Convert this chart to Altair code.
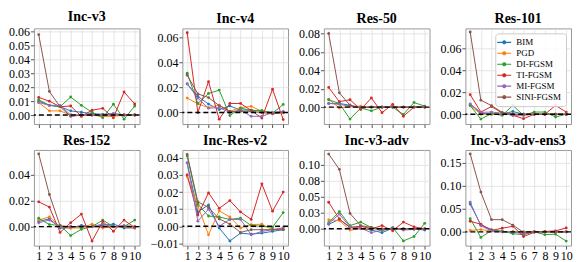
import altair as alt
import pandas as pd

METHODS = ["BIM", "PGD", "DI-FGSM", "TI-FGSM", "MI-FGSM", "SINI-FGSM"]
COLORS = ["#1f77b4", "#ff7f0e", "#2ca02c", "#d62728", "#9467bd", "#8c564b"]
STEPS = [1, 2, 3, 4, 5, 6, 7, 8, 9, 10]

INC_V3 = {
    "BIM": [0.010, 0.007, 0.006, 0.003, 0.002, 0.001, 0.0005, 0.001, 0.000, 0.000],
    "PGD": [0.009, 0.003, 0.003, 0.000, 0.000, 0.000, -0.001, -0.001, 0.000, 0.000],
    "DI-FGSM": [0.011, 0.007, 0.006, 0.013, 0.007, 0.002, -0.002, 0.0078, -0.003, 0.0065],
    "TI-FGSM": [0.0127, 0.010, 0.006, 0.0065, -0.001, 0.0035, 0.0048, -0.002, 0.0166, 0.008],
    "MI-FGSM": [0.009, 0.007, 0.007, 0.000, 0.000, 0.000, 0.000, 0.001, 0.000, 0.000],
    "SINI-FGSM": [0.058, 0.017, 0.006, -0.001, 0.000, 0.000, 0.000, 0.000, 0.000, 0.000],
}
INC_V4 = {
    "BIM": [0.023, 0.013, 0.0068, 0.0024, 0.0053, 0.002, 0.002, 0.001, 0.000, 0.000],
    "PGD": [0.0116, 0.007, 0.004, 0.006, 0.001, 0.004, 0.005, 0.001, -0.001, 0.000],
    "DI-FGSM": [0.0316, 0.0073, 0.0153, 0.018, -0.0024, 0.0036, 0.0017, 0.0017, -0.0005, 0.0065],
    "TI-FGSM": [0.064, 0.000, 0.0248, -0.0053, 0.0073, 0.0073, 0.0017, -0.0044, 0.0187, -0.0056],
    "MI-FGSM": [0.023, 0.0116, 0.0035, 0.004, 0.000, 0.002, -0.003, -0.003, 0.000, 0.001],
    "SINI-FGSM": [0.030, 0.015, 0.012, 0.0056, 0.001, 0.001, 0.001, 0.000, -0.001, 0.000],
}
RES_50 = {
    "BIM": [0.004, 0.004, 0.002, -0.001, 0.000, 0.000, 0.000, 0.000, 0.000, 0.000],
    "PGD": [0.0085, -0.001, 0.001, 0.001, 0.000, 0.000, 0.000, 0.000, 0.000, 0.000],
    "DI-FGSM": [0.008, 0.004, -0.013, -0.001, -0.004, 0.000, 0.000, -0.008, 0.005, 0.001],
    "TI-FGSM": [0.0214, 0.006, 0.008, -0.0026, 0.0099, -0.006, 0.003, -0.0099, 0.000, 0.000],
    "MI-FGSM": [0.004, 0.003, 0.001, 0.000, 0.000, 0.000, 0.000, 0.000, 0.000, 0.000],
    "SINI-FGSM": [0.080, 0.0155, 0.002, -0.001, 0.000, 0.000, 0.000, 0.000, 0.000, 0.000],
}
RES_101 = {
    "BIM": [0.009, 0.001, 0.000, 0.000, 0.0025, 0.000, 0.000, 0.000, 0.000, 0.000],
    "PGD": [0.008, 0.000, 0.000, 0.000, 0.000, 0.000, 0.000, 0.000, 0.000, 0.000],
    "DI-FGSM": [0.0078, -0.0044, 0.0006, -0.001, 0.008, -0.001, 0.002, 0.002, -0.0025, 0.000],
    "TI-FGSM": [0.0178, 0.002, 0.007, 0.001, -0.001, -0.004, 0.000, 0.000, 0.008, 0.002],
    "MI-FGSM": [0.0094, 0.0017, 0.002, 0.001, -0.001, -0.001, 0.000, 0.000, 0.000, 0.000],
    "SINI-FGSM": [0.0747, 0.0128, 0.0078, 0.0017, 0.000, 0.000, 0.000, 0.000, 0.000, 0.000],
}
RES_152 = {
    "BIM": [0.004, 0.006, -0.001, -0.001, 0.001, 0.000, 0.001, 0.002, -0.001, -0.001],
    "PGD": [0.005, 0.0075, 0.000, -0.001, -0.001, 0.002, -0.001, 0.000, 0.000, -0.001],
    "DI-FGSM": [0.0065, 0.0016, 0.001, -0.0068, -0.002, 0.000, 0.005, 0.000, 0.000, 0.005],
    "TI-FGSM": [0.019, 0.015, -0.0044, 0.003, 0.0096, -0.011, 0.004, -0.0035, 0.005, -0.0007],
    "MI-FGSM": [0.003, 0.005, 0.000, 0.000, 0.000, 0.000, 0.002, 0.000, 0.001, 0.000],
    "SINI-FGSM": [0.0557, 0.0246, 0.0007, 0.000, 0.000, 0.000, 0.000, 0.000, 0.000, 0.000],
}
INC_RES_V2 = {
    "BIM": [0.037, 0.0084, 0.0125, -0.001, -0.0086, -0.004, -0.0046, -0.004, -0.003, -0.002],
    "PGD": [0.029, 0.012, -0.005, 0.009, 0.0054, -0.001, 0.001, 0.0012, -0.002, -0.001],
    "DI-FGSM": [0.041, 0.0129, 0.006, 0.0054, 0.004, 0.0048, 0.0004, 0.000, -0.0005, 0.008],
    "TI-FGSM": [0.030, 0.0066, 0.0195, 0.0105, 0.015, 0.0084, 0.004, 0.0248, 0.0088, 0.020],
    "MI-FGSM": [0.037, 0.003, 0.010, 0.000, 0.004, 0.004, -0.005, -0.003, -0.002, -0.001],
    "SINI-FGSM": [0.042, 0.0143, 0.011, 0.0043, 0.0013, -0.0036, -0.002, -0.002, -0.002, -0.002],
}
INC_V3_ADV = {
    "BIM": [0.007, 0.015, 0.002, 0.001, -0.002, -0.006, 0.001, 0.000, 0.000, -0.002],
    "PGD": [0.014, 0.013, -0.002, 0.000, 0.000, 0.000, 0.000, 0.000, 0.000, 0.000],
    "DI-FGSM": [0.0096, 0.027, 0.005, 0.0105, 0.002, -0.003, 0.002, -0.019, -0.012, 0.0086],
    "TI-FGSM": [0.0416, 0.0153, 0.0024, 0.004, 0.000, 0.005, -0.003, 0.0105, 0.003, 0.000],
    "MI-FGSM": [0.008, 0.023, 0.003, 0.001, -0.006, -0.002, 0.001, -0.002, -0.001, 0.000],
    "SINI-FGSM": [0.117, 0.093, 0.024, 0.005, 0.002, 0.000, 0.000, 0.000, 0.000, 0.000],
}
INC_V3_ADV_ENS3 = {
    "BIM": [0.060, 0.015, 0.005, 0.000, 0.000, 0.000, 0.000, 0.000, 0.000, 0.000],
    "PGD": [0.003, 0.005, 0.002, 0.000, 0.000, 0.000, 0.000, 0.000, 0.000, 0.000],
    "DI-FGSM": [0.0284, -0.012, 0.003, 0.002, -0.004, -0.006, 0.000, -0.006, -0.005, -0.020],
    "TI-FGSM": [0.023, 0.0165, 0.003, 0.008, 0.012, -0.010, -0.001, 0.001, 0.002, 0.0086],
    "MI-FGSM": [0.064, 0.013, 0.002, 0.000, 0.000, -0.004, 0.000, 0.000, 0.000, 0.000],
    "SINI-FGSM": [0.1685, 0.086, 0.0264, 0.0264, 0.0145, -0.001, 0.000, 0.000, 0.000, 0.000],
}

PANELS = [
    ("Inc-v3", INC_V3, [-0.0065, 0.0625], [0, 0.01, 0.02, 0.03, 0.04, 0.05, 0.06]),
    ("Inc-v4", INC_V4, [-0.0092, 0.0675], [0, 0.02, 0.04, 0.06]),
    ("Res-50", RES_50, [-0.0184, 0.0856], [0, 0.02, 0.04, 0.06, 0.08]),
    ("Res-101", RES_101, [-0.0089, 0.078], [0, 0.02, 0.04, 0.06]),
    ("Res-152", RES_152, [-0.0145, 0.0587], [0, 0.02, 0.04]),
    ("Inc-Res-v2", INC_RES_V2, [-0.0113, 0.0446], [-0.01, 0, 0.01, 0.02, 0.03, 0.04]),
    ("Inc-v3-adv", INC_V3_ADV, [-0.0263, 0.1234], [0, 0.025, 0.05, 0.075, 0.1]),
    ("Inc-v3-adv-ens3", INC_V3_ADV_ENS3, [-0.0297, 0.177], [0, 0.05, 0.1, 0.15]),
]

W, H = 106, 96
FONT = "Liberation Serif"
LEGEND_SYMBOL = "M-1.75,0H1.75M-0.375,0A0.375,0.375,0,1,1,0.375,0A0.375,0.375,0,1,1,-0.375,0Z"


def make_panel(idx, title, series, domain, ticks):
    rows = []
    for m in METHODS:
        for s, v in zip(STEPS, series[m]):
            rows.append({"step": s, "value": v, "method": m})
    df = pd.DataFrame(rows)
    yscale = alt.Scale(domain=domain, nice=False, zero=False)
    xscale = alt.Scale(domain=[0.55, 10.45], nice=False, zero=False)
    show_labels = idx >= 4
    if idx == 3:
        legend = alt.Legend(title=None, orient="top-right", offset=5)
    else:
        legend = None
    yaxis = alt.Axis(values=ticks, title=None, labelOverlap=False, labelBound=False,
                     labelExpr="format(datum.value + 1e-9, '.2f')")
    lines = alt.Chart(df).mark_line(
        strokeWidth=1, point=alt.OverlayMarkDef(filled=True, size=8)
    ).encode(
        x=alt.X("step:Q", scale=xscale,
                axis=alt.Axis(values=STEPS, labels=show_labels, title=None, format="d",
                              labelOverlap=False, labelFlush=False)),
        y=alt.Y("value:Q", scale=yscale, axis=yaxis),
        color=alt.Color("method:N", scale=alt.Scale(domain=METHODS, range=COLORS),
                        legend=legend),
    )
    zero = alt.Chart(pd.DataFrame({"value": [0]})).mark_rule(
        color="black", strokeDash=[5, 3], strokeWidth=1.4
    ).encode(y=alt.Y("value:Q", scale=yscale, axis=yaxis))
    return alt.layer(lines, zero).properties(width=W, height=H, title=title)


charts = [make_panel(i, *p) for i, p in enumerate(PANELS)]

chart = alt.concat(*charts, columns=4, spacing={"row": 4, "column": 8}).resolve_scale(
    color="independent"
).properties(padding=0).configure_view(
    stroke="#999", strokeWidth=1
).configure_axis(
    labelFont=FONT, labelFontSize=12, labelColor="black", domain=False,
    tickColor="#555", tickSize=3.5, labelPadding=1, labelOverlap=False,
    gridColor="#dedede", gridWidth=0.8,
).configure_title(
    font=FONT, fontSize=14, fontWeight="bold", color="black", offset=2, anchor="middle"
).configure_legend(
    labelFont=FONT, labelFontSize=9, labelColor="black",
    symbolType=LEGEND_SYMBOL, symbolSize=64, symbolStrokeWidth=1.1,
    strokeColor="#ccc", fillColor="rgba(255,255,255,0.85)", cornerRadius=3,
    padding=4, rowPadding=1, labelOffset=7,
)

chart.save("out.html", embed_options={"renderer": "svg", "actions": False})
